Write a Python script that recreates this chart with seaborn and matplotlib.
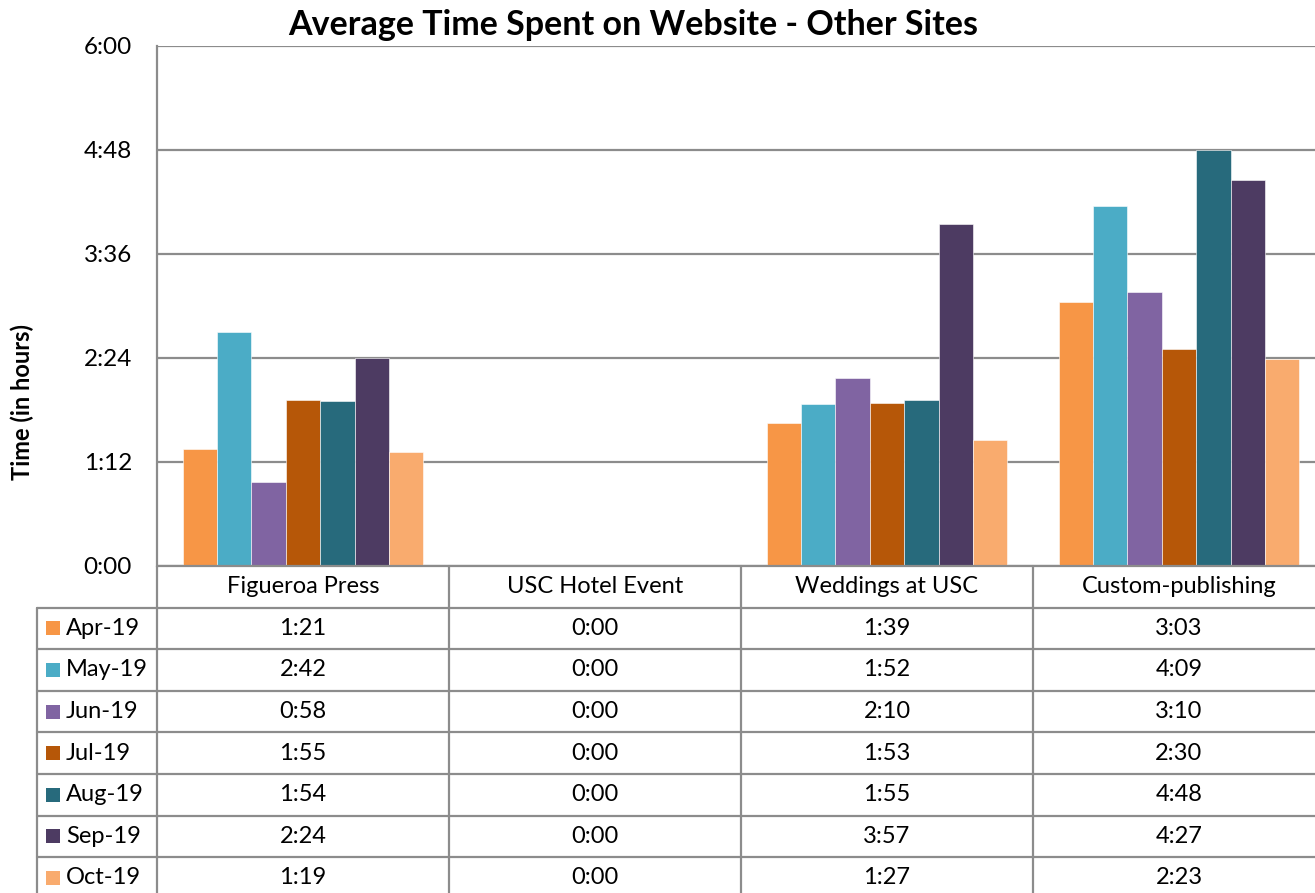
import pandas as pd
import seaborn as sns
import matplotlib.pyplot as plt
from matplotlib.patches import Rectangle
from matplotlib.ticker import FuncFormatter, MultipleLocator

# sites and months (values in minutes)
sites = ["Figueroa Press", "USC Hotel Event", "Weddings at USC", "Custom-publishing"]
months = ["Apr-19", "May-19", "Jun-19", "Jul-19", "Aug-19", "Sep-19", "Oct-19"]
apr = [81, 0, 99, 183]
may = [162, 0, 112, 249]
jun = [58, 0, 130, 190]
jul = [115, 0, 113, 150]
aug = [114, 0, 115, 288]
sep = [144, 0, 237, 267]
oct_ = [79, 0, 87, 143]
colors = ["#F79646", "#4BACC6", "#8064A2", "#B65708", "#276A7C", "#4D3B62", "#F9AB6E"]

series = [apr, may, jun, jul, aug, sep, oct_]
rows = []
for m, vals in zip(months, series):
    for s, v in zip(sites, vals):
        rows.append({"site": s, "month": m, "minutes": v})
df = pd.DataFrame(rows)


def hmm(v, pos=None):
    v = int(round(v))
    return f"{v // 60}:{v % 60:02d}"


sns.set_style("white")
plt.rcParams['font.family'] = ['Lato', 'DejaVu Sans']
plt.rcParams['text.color'] = 'black'
plt.rcParams['ytick.color'] = 'black'

fig = plt.figure(figsize=(13.15, 8.93), dpi=100)
ax = fig.add_axes([157 / 1315, 1 - 566 / 893, 1168 / 1315, 520 / 893])

sns.barplot(data=df, x="site", y="minutes", hue="month", palette=colors,
            width=0.825, saturation=1, legend=False, ax=ax,
            edgecolor="white", linewidth=0.4)

ax.set_ylim(0, 360)
ax.set_xlim(-0.5, 3.5)
ax.yaxis.set_major_locator(MultipleLocator(72))
ax.yaxis.set_major_formatter(FuncFormatter(hmm))
ax.grid(axis="y", color="#8c8c8c", linewidth=1.6)
ax.set_axisbelow(True)
for side in ["top", "right", "bottom"]:
    ax.spines[side].set_visible(False)
ax.spines["left"].set_color("#8c8c8c")
ax.spines["left"].set_linewidth(1.6)
ax.set_xticks([])
ax.set_xlabel("")
ax.set_ylabel("")
ax.tick_params(axis="y", labelsize=17.5, pad=18, length=0, labelcolor="black")

# title and y label
fig.text(633 / 1315, 1 - 25 / 893, "Average Time Spent on Website - Other Sites",
         ha="center", va="center", fontsize=24.5, fontweight="bold", color="black")
fig.text(22 / 1315, 1 - 402 / 893, "Time (in hours)", rotation=90,
         ha="center", va="center", fontsize=17, fontweight="bold", color="black")

# data table below the plot
tr = ax.get_xaxis_transform()
h = 41.6 / 520
leg_left = -0.5 - 120 / 292
lc = "#8c8c8c"
lw = 1.6
n = len(months)
bottom = -(n + 1) * h
fs = 17

ax.plot([-0.5, 3.5], [0, 0], transform=tr, color=lc, lw=lw, clip_on=False)
for k in range(n):
    y = -(k + 1) * h
    ax.plot([leg_left, 3.5], [y, y], transform=tr, color=lc, lw=lw, clip_on=False)
ax.plot([leg_left, leg_left], [-h, bottom], transform=tr, color=lc, lw=lw, clip_on=False)
for i in range(len(sites)):
    x = i + 0.5
    ax.plot([x, x], [0, bottom], transform=tr, color=lc, lw=lw, clip_on=False)
ax.plot([-0.5, -0.5], [0, bottom], transform=tr, color=lc, lw=lw, clip_on=False)

for i, s in enumerate(sites):
    ax.text(i, -0.5 * h, s, transform=tr, ha="center", va="center", fontsize=fs)

for k, (m, vals, c) in enumerate(zip(months, series, colors)):
    yc = -(k + 1.5) * h
    sq = 14 / 520
    ax.add_patch(Rectangle((leg_left + 9 / 292, yc - sq / 2), 14 / 292, sq,
                           transform=tr, facecolor=c, edgecolor="none", clip_on=False))
    ax.text(leg_left + 29 / 292, yc, m, transform=tr, ha="left", va="center", fontsize=fs)
    for i, v in enumerate(vals):
        ax.text(i, yc, hmm(v), transform=tr, ha="center", va="center", fontsize=fs)

fig.savefig("out.png", dpi=100)
